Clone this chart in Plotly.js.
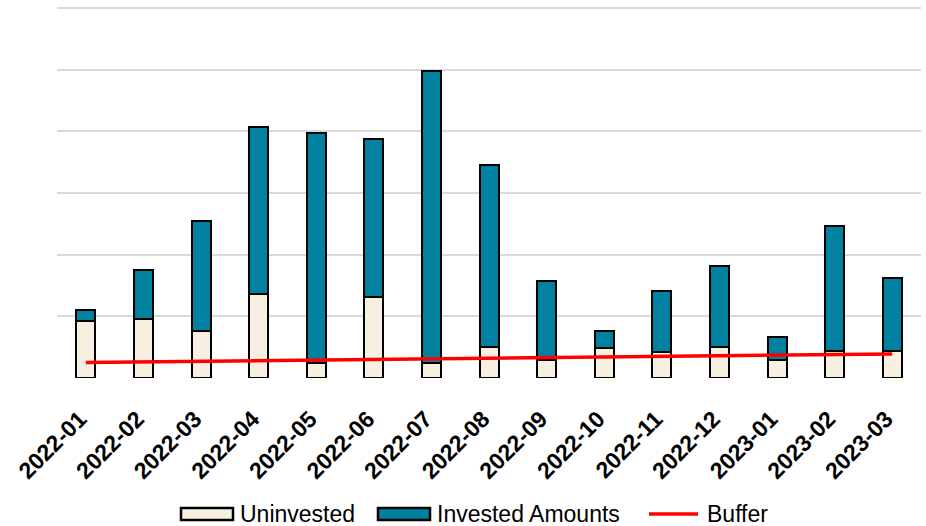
<!DOCTYPE html>
<html>
<head>
<meta charset="utf-8">
<script src="https://cdn.plot.ly/plotly-3.0.1.min.js"></script>
<style>html,body{margin:0;padding:0;background:#fff;}#chart{width:926px;height:526px;}</style>
</head>
<body>
<div id="chart"></div>
<script>
const months = ["2022-01","2022-02","2022-03","2022-04","2022-05","2022-06","2022-07","2022-08","2022-09","2022-10","2022-11","2022-12","2023-01","2023-02","2023-03"];
const uninvested = [92, 96, 76, 136, 24, 132, 24, 51, 30, 49, 42, 50, 30, 43, 43];
const invested = [19, 79, 179, 271, 374, 255, 473, 294, 128, 27, 99, 131, 37, 203, 119];
const buffer = [25, 26, 27, 28, 29, 30, 31, 32, 33, 34, 35, 36, 37, 38, 39];
const seriesNames = ["Uninvested", "Invested Amounts", "Buffer"];
const seriesColors = ["#F7EFDF", "#00819F", "#FF0000"];

const font = "Liberation Sans, Arial, sans-serif";
const W = 926, H = 526;
const M = {l: 57, r: 5, t: 6, b: 148};
const pw = W - M.l - M.r, ph = H - M.t - M.b;
const px = x => (x - M.l) / pw;          // pixel -> paper x
const py = y => (H - M.b - y) / ph;      // pixel -> paper y

const traces = [
  {type: "bar", name: seriesNames[0], x: months, y: uninvested, showlegend: false,
   marker: {color: seriesColors[0], line: {color: "#000000", width: 2}}},
  {type: "bar", name: seriesNames[1], x: months, y: invested, showlegend: false,
   marker: {color: seriesColors[1], line: {color: "#000000", width: 2}}},
  {type: "scatter", mode: "lines", name: seriesNames[2], x: months, y: buffer, showlegend: false,
   line: {color: seriesColors[2], width: 3.5}}
];

// custom legend (wide swatches like the reference)
const legY = 514;
const swatches = [
  {x0: 181, x1: 233, tx: 238, kind: "box"},
  {x0: 378, x1: 430, tx: 435, kind: "box"},
  {x0: 649, x1: 698, tx: 705, kind: "line"}
];
const shapes = [], annotations = [];
swatches.forEach((s, i) => {
  if (s.kind === "box") {
    shapes.push({type: "rect", xref: "paper", yref: "paper",
      x0: px(s.x0), x1: px(s.x1), y0: py(legY + 6), y1: py(legY - 6),
      fillcolor: seriesColors[i], line: {color: "#000", width: 2.5}});
  } else {
    shapes.push({type: "line", xref: "paper", yref: "paper",
      x0: px(s.x0), x1: px(s.x1), y0: py(legY), y1: py(legY),
      line: {color: seriesColors[i], width: 3.5}});
  }
  annotations.push({xref: "paper", yref: "paper", x: px(s.tx), y: py(legY),
    xanchor: "left", yanchor: "middle", showarrow: false, text: seriesNames[i],
    font: {family: font, size: 23, color: "#000"}});
});

const layout = {
  width: W, height: H,
  margin: M,
  paper_bgcolor: "#ffffff", plot_bgcolor: "#ffffff",
  barmode: "stack", bargap: 0.67,
  font: {family: font, color: "#000000"},
  showlegend: false,
  shapes: shapes, annotations: annotations,
  xaxis: {type: "category", tickangle: -45, showgrid: false, zeroline: false, showline: false,
          ticks: "", ticklabelstandoff: 22, ticklabelshift: -6,
          tickfont: {family: font, size: 23, weight: "bold", color: "#000"}},
  yaxis: {range: [0, 603.2], tickvals: [0, 100, 200, 300, 400, 500, 600], showticklabels: false, showgrid: true,
          gridcolor: "#d9d9d9", gridwidth: 2, zeroline: false, showline: false, ticks: ""}
};
Plotly.newPlot("chart", traces, layout, {displayModeBar: false, staticPlot: true});
</script>
</body>
</html>
